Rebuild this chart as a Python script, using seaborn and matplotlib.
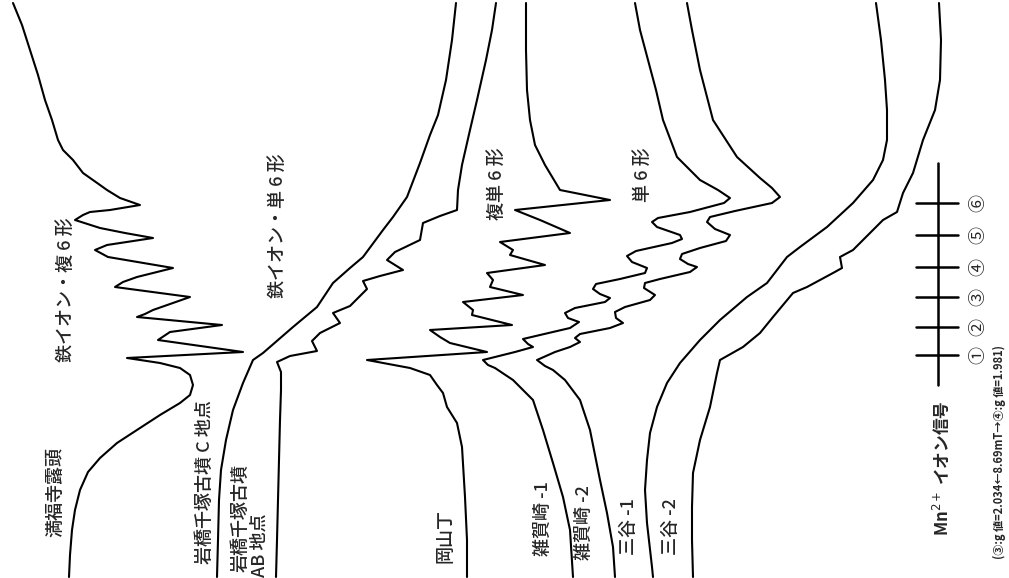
import matplotlib
matplotlib.use("Agg")
import matplotlib.pyplot as plt
import seaborn as sns

# ESR spectra, drawn rotated: field runs top -> bottom, signal runs left -> right
# each trace = (signal position, field position)

manpuku_sig = [13, 22, 30, 38, 45, 52, 58, 63, 73, 83, 100, 107, 120, 140, 110, 90, 83, 75,
               100, 125, 153, 107, 95, 108, 173, 137, 123, 115, 190, 153, 145, 137, 222, 170,
               158, 243, 127, 160, 180, 190, 193, 190, 180, 160, 140, 117, 100, 88, 80, 75,
               72, 70, 69]
manpuku_fld = [3, 25, 50, 75, 100, 120, 140, 150, 160, 173, 185, 190, 198, 205, 210, 212, 215, 220,
               228, 233, 238, 245, 250, 257, 268, 277, 282, 287, 297, 310, 314, 317, 325, 332,
               340, 352, 358, 363, 368, 375, 385, 395, 403, 415, 428, 443, 458, 472, 490, 510,
               530, 555, 577]

iwahashi_c_sig = [456, 452, 446, 438, 430, 420, 407, 393, 383, 363, 350, 333, 317, 293, 263,
                  253, 243, 233, 226, 221, 219, 218, 217]
iwahashi_c_fld = [3, 40, 80, 115, 135, 163, 197, 217, 230, 257, 268, 283, 307, 327, 353,
                  360, 383, 410, 440, 470, 500, 540, 577]

iwahashi_ab_sig = [496, 492, 486, 477, 470, 462, 458, 457, 440, 423, 420, 395, 387, 403, 380,
                   363, 367, 350, 333, 340, 320, 312, 317, 290, 277, 281, 281, 280, 279, 278,
                   277, 276]
iwahashi_ab_fld = [3, 30, 60, 100, 130, 165, 190, 210, 216, 223, 240, 252, 260, 270, 276,
                   281, 289, 306, 313, 323, 333, 341, 351, 356, 362, 372, 390, 420, 460, 500,
                   540, 577]

okayama_sig = [526, 526, 527, 530, 535, 545, 560, 610, 515, 540, 570, 500, 513, 510, 545, 487,
               493, 490, 523, 463, 473, 472, 512, 430, 440, 450, 487, 367, 410, 430, 437, 443,
               447, 457, 462, 465, 467, 467]
okayama_fld = [3, 50, 90, 120, 145, 165, 190, 200, 210, 220, 233, 242, 250, 255, 265, 273,
               280, 287, 295, 302, 310, 315, 325, 330, 337, 343, 352, 360, 368, 375, 385, 393,
               407, 423, 447, 497, 540, 577]

saikazaki1_sig = [635, 640, 648, 656, 663, 677, 700, 718, 730, 724, 690, 658, 652, 657, 680,
                  682, 672, 636, 627, 632, 647, 645, 620, 596, 593, 600, 610, 605, 575, 565,
                  568, 579, 570, 540, 523, 528, 533, 515, 483, 488, 495, 513, 533, 543, 553,
                  563, 570, 573]
saikazaki1_fld = [3, 30, 60, 90, 120, 157, 180, 190, 198, 203, 212, 218, 222, 227, 235,
                  239, 243, 251, 256, 262, 268, 273, 279, 284, 289, 294, 298, 302, 308, 313,
                  318, 322, 328, 335, 339, 344, 347, 352, 360, 365, 368, 380, 400, 430, 463,
                  497, 530, 577]

saikazaki2_sig = [687, 692, 700, 713, 737, 760, 772, 780, 772, 735, 710, 707, 715, 730, 726,
                  700, 682, 680, 688, 697, 690, 660, 645, 644, 655, 650, 625, 615, 616, 623,
                  610, 580, 575, 580, 570, 555, 537, 545, 553, 565, 580, 590, 600, 607, 613,
                  615]
saikazaki2_fld = [3, 30, 70, 120, 157, 178, 188, 197, 203, 211, 217, 222, 229, 235, 241,
                  248, 254, 259, 264, 267, 272, 279, 283, 288, 295, 300, 307, 312, 318, 323,
                  328, 334, 338, 342, 347, 352, 360, 366, 370, 380, 400, 430, 480, 513, 547,
                  577]

mitani1_sig = [876, 881, 885, 887, 887, 883, 873, 853, 827, 800, 787, 767, 747, 720, 700, 680,
               667, 657, 650, 647, 645, 647, 652, 653]
mitani1_fld = [3, 40, 80, 110, 140, 160, 180, 203, 227, 247, 257, 283, 297, 320, 340, 363,
               383, 407, 433, 460, 490, 523, 567, 577]

mitani2_sig = [939, 941, 940, 935, 923, 913, 903, 897, 883, 873, 853, 840, 842, 833, 820, 807,
               793, 773, 760, 743, 720, 717, 710, 700, 693, 692, 692, 693]
mitani2_fld = [3, 40, 80, 110, 140, 173, 193, 212, 220, 230, 250, 257, 268, 273, 280, 287,
               293, 317, 333, 347, 360, 373, 407, 440, 473, 507, 540, 577]

traces = [
    (manpuku_sig, manpuku_fld),
    (iwahashi_c_sig, iwahashi_c_fld),
    (iwahashi_ab_sig, iwahashi_ab_fld),
    (okayama_sig, okayama_fld),
    (saikazaki1_sig, saikazaki1_fld),
    (saikazaki2_sig, saikazaki2_fld),
    (mitani1_sig, mitani1_fld),
    (mitani2_sig, mitani2_fld),
]

# Mn2+ marker lines (field positions of the six lines)
mn_fld = [355, 327, 297, 267, 235, 203]
mn_labels = ["①", "②", "③", "④", "⑤", "⑥"]

# sample labels: text, signal pos, field pos (centre)
sample_labels = [
    ("満福寺露頭", 55, 492),
    ("岩橋千塚古墳 C 地点", 205, 482),
    ("岩橋千塚古墳", 241, 518),
    ("AB 地点", 260, 545),
    ("岡山丁", 445, 536),
    ("雑賀崎 -1", 543, 519),
    ("雑賀崎 -2", 584, 523),
    ("三谷 -1", 629, 527),
    ("三谷 -2", 671, 527),
]
type_labels = [
    ("鉄イオン・複 6 形", 66, 290),
    ("鉄イオン・単 6 形", 278, 226),
    ("複単 6 形", 497, 184),
    ("単 6 形", 643, 175),
]

sns.set_theme(style="white")
plt.rcParams['font.family'] = ['Noto Sans CJK JP', 'DejaVu Sans']

fig = plt.figure(figsize=(10.09, 5.78), dpi=100)
ax = fig.add_axes([0, 0, 1, 1])

for sig, fld in traces:
    sns.lineplot(x=sig, y=fld, sort=False, estimator=None, color="black", lw=1.5, ax=ax)

# Mn2+ reference scale
sns.lineplot(x=[938, 938], y=[163, 385], sort=False, estimator=None, color="black", lw=1.8, ax=ax)
for f, lab in zip(mn_fld, mn_labels):
    ax.plot([916, 958], [f, f], color="black", lw=1.8)
    ax.text(978, f, lab, rotation=90, ha="center", va="center", fontsize=13)

for txt, x, y in sample_labels + type_labels:
    ax.text(x, y, txt, rotation=90, ha="center", va="center", fontsize=13,
            fontweight="medium")

ax.text(942, 468, "Mn$^{2+}$ イオン信号", rotation=90, ha="center", va="center",
        fontsize=12, fontweight="bold")
ax.text(999, 452, "(③:g 値=2.034←8.69mT→④:g 値=1.981)", rotation=90,
        ha="center", va="center", fontsize=8, fontweight="bold")

ax.set_xlim(0, 1009)
ax.set_ylim(578, 0)
ax.axis("off")

fig.savefig("out.png", dpi=100, facecolor="white")
